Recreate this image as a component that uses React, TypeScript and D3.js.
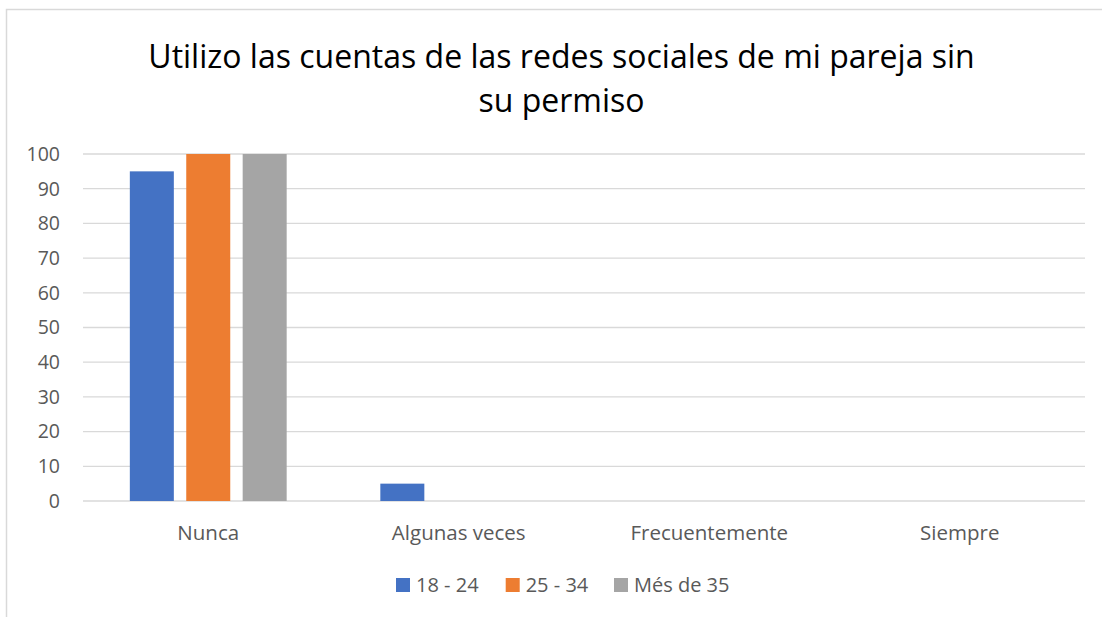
import React from "react";
import * as d3 from "d3";

const categories = ["Nunca", "Algunas veces", "Frecuentemente", "Siempre"];
const seriesNames = ["18 - 24", "25 - 34", "Més de 35"];
const s1824 = [95, 5, 0, 0];
const s2534 = [100, 0, 0, 0];
const s35 = [100, 0, 0, 0];
const colors = ["#4472C4", "#ED7D31", "#A5A5A5"];
const yTicks = [0, 10, 20, 30, 40, 50, 60, 70, 80, 90, 100];
const titleLines = ["Utilizo las cuentas de las redes sociales de mi pareja sin", "su permiso"];

const W = 1102;
const H = 617;
const font = "'Open Sans', sans-serif";

export default function App() {
  const series = [s1824, s2534, s35];
  const x0 = d3.scaleBand<string>().domain(categories).range([83, 1085]).paddingInner(0).paddingOuter(0);
  const x1 = d3.scaleBand<number>().domain([0, 1, 2]).range([0, x0.bandwidth()]).paddingInner(0.22).paddingOuter(0.83);
  const y = d3.scaleLinear().domain([0, 100]).range([501, 154]);

  const legendX = [396, 505.7, 614];

  return (
    <svg width={W} height={H} style={{ position: "absolute", left: 0, top: 0 }}>
      <rect x={0} y={0} width={W} height={H} fill="#fff" />
      <rect x={6.5} y={9.5} width={W + 10} height={H + 10} fill="#fff" stroke="#D9D9D9" strokeWidth={1.5} />
      {titleLines.map((t, i) => (
        <text key={i} x={561.5} y={68 + i * 44} textAnchor="middle" fontFamily={font} fontSize={32} fill="#000">
          {t}
        </text>
      ))}
      {yTicks.map((t) => (
        <g key={t}>
          <line x1={83} x2={1085} y1={y(t)} y2={y(t)} stroke="#D9D9D9" strokeWidth={1.3} />
          <text x={60} y={y(t)} dy="0.35em" textAnchor="end" fontFamily={font} fontSize={19.5} fill="#595959">
            {t}
          </text>
        </g>
      ))}
      {categories.map((c, ci) => (
        <g key={c}>
          {series.map((s, si) =>
            s[ci] > 0 ? (
              <rect
                key={si}
                x={(x0(c) as number) + (x1(si) as number)}
                y={y(s[ci])}
                width={x1.bandwidth()}
                height={y(0) - y(s[ci])}
                fill={colors[si]}
              />
            ) : null
          )}
          <text x={(x0(c) as number) + x0.bandwidth() / 2} y={533} dy="0.35em" textAnchor="middle" fontFamily={font} fontSize={20.5} fill="#595959">
            {c}
          </text>
        </g>
      ))}
      {seriesNames.map((n, i) => (
        <g key={n}>
          <rect x={legendX[i]} y={578} width={14} height={14} fill={colors[i]} />
          <text x={legendX[i] + 20} y={585} dy="0.35em" fontFamily={font} fontSize={20} fill="#595959">
            {n}
          </text>
        </g>
      ))}
    </svg>
  );
}
